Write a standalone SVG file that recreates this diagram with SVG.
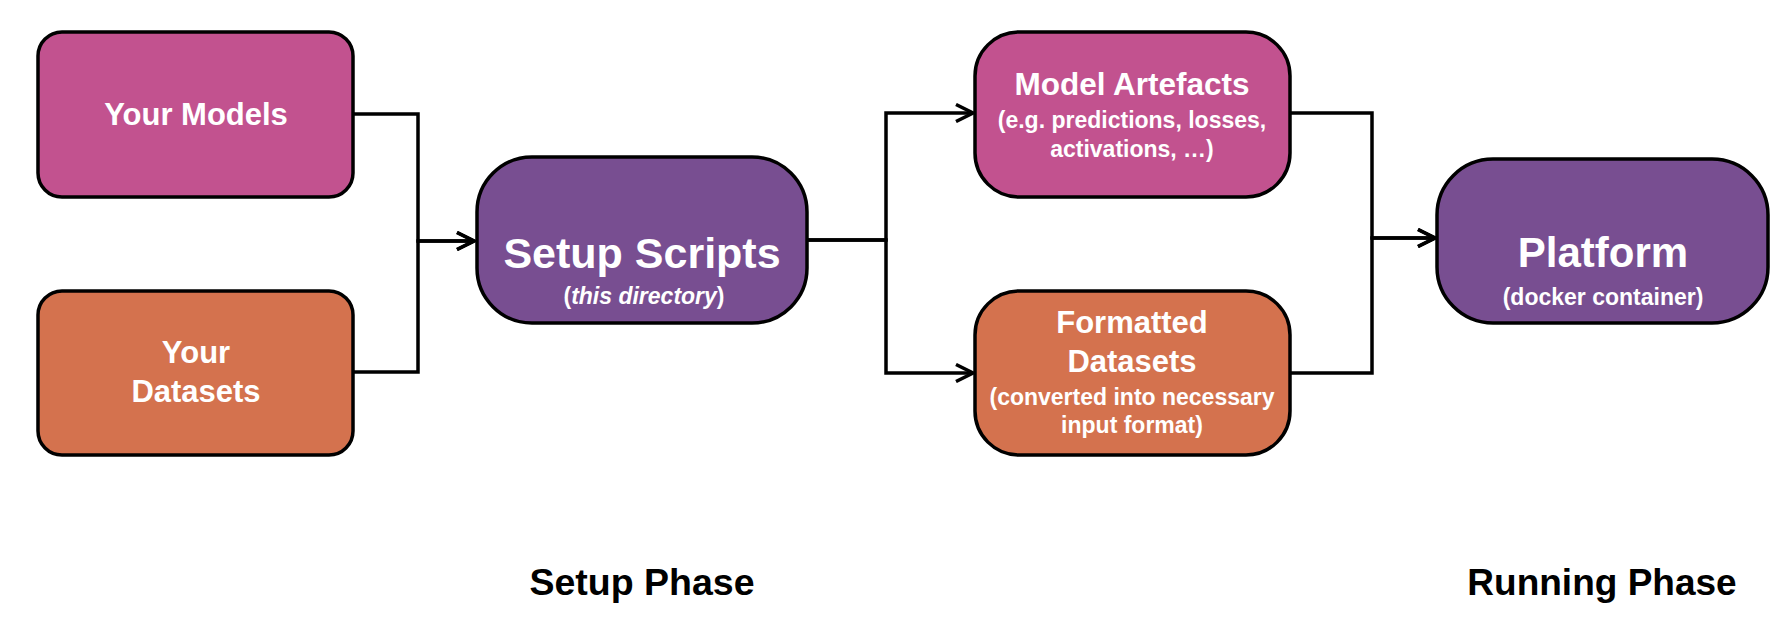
<svg xmlns="http://www.w3.org/2000/svg" width="1790" height="636" viewBox="0 0 1790 636">
<style>
.box{stroke:#000;stroke-width:3.5}
.pink{fill:#C2528F}
.orange{fill:#D4724E}
.purple{fill:#784E91}
text{font-family:"Liberation Sans",Arial,Helvetica,sans-serif;font-weight:bold;text-anchor:middle}
.w{fill:#fff}
.conn{fill:none;stroke:#000;stroke-width:3.5}
</style>
<defs>
<marker id="arr" markerUnits="userSpaceOnUse" viewBox="0 0 20 20" markerWidth="20" markerHeight="20" refX="18" refY="10" orient="auto">
<path d="M1,1.5 L18,10 L1,18.5" fill="none" stroke="#000" stroke-width="3.5"/>
</marker>
</defs>
<rect width="1790" height="636" fill="#fff"/>
<g id="connectors">
<path class="conn" d="M353,114 H418 V241 H474" marker-end="url(#arr)"/>
<path class="conn" d="M353,372 H418 V241 H474" marker-end="url(#arr)"/>
<path class="conn" d="M807,240 H886 V113 H973" marker-end="url(#arr)"/>
<path class="conn" d="M807,240 H886 V373 H973" marker-end="url(#arr)"/>
<path class="conn" d="M1290,113 H1372 V238 H1435" marker-end="url(#arr)"/>
<path class="conn" d="M1290,373 H1372 V238 H1435" marker-end="url(#arr)"/>
</g>
<g id="your-models">
<rect class="box pink" x="38" y="32" width="315" height="165" rx="24"/>
<text class="w" x="196" y="125" font-size="31">Your Models</text>
</g>
<g id="your-datasets">
<rect class="box orange" x="38" y="291" width="315" height="164" rx="24"/>
<text class="w" x="196" y="363" font-size="31">Your</text>
<text class="w" x="196" y="402" font-size="31">Datasets</text>
</g>
<g id="setup-scripts">
<rect class="box purple" x="477" y="157" width="330" height="166" rx="55"/>
<text class="w" x="642" y="268" font-size="43">Setup Scripts</text>
<text class="w" x="644" y="304" font-size="23">(<tspan font-style="italic">this directory</tspan>)</text>
</g>
<g id="model-artefacts">
<rect class="box pink" x="975" y="32" width="315" height="165" rx="44"/>
<text class="w" x="1132" y="95" font-size="31.5">Model Artefacts</text>
<text class="w" x="1132" y="128" font-size="23">(e.g. predictions, losses,</text>
<text class="w" x="1132" y="157" font-size="23">activations, …)</text>
</g>
<g id="formatted-datasets">
<rect class="box orange" x="975" y="291" width="315" height="164" rx="44"/>
<text class="w" x="1132" y="333" font-size="31">Formatted</text>
<text class="w" x="1132" y="372" font-size="31">Datasets</text>
<text class="w" x="1132" y="405" font-size="23">(converted into necessary</text>
<text class="w" x="1132" y="433" font-size="23">input format)</text>
</g>
<g id="platform">
<rect class="box purple" x="1437" y="159" width="331" height="164" rx="56"/>
<text class="w" x="1603" y="267" font-size="42">Platform</text>
<text class="w" x="1603" y="305" font-size="23">(docker container)</text>
</g>
<g id="setup-phase">
<text x="642" y="595" font-size="37.5" fill="#000">Setup Phase</text>
</g>
<g id="running-phase">
<text x="1602" y="595" font-size="37" fill="#000">Running Phase</text>
</g>
</svg>
